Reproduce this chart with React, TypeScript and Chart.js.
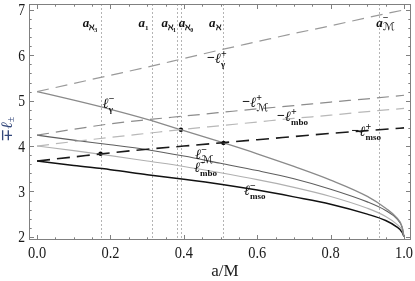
import React, { useEffect, useRef } from "react";
import { Chart, registerables } from "chart.js";
Chart.register(...registerables);

// ---- data ----
const aMinus = [0, 0.1, 0.2, 0.3, 0.4, 0.5, 0.6, 0.7, 0.8, 0.9, 0.95, 0.98, 0.995, 1.0];
const lGammaMinus = [5.2, 5.01, 4.81, 4.59, 4.34, 4.09, 3.83, 3.55, 3.25, 2.89, 2.63, 2.42, 2.22, 2.0];
const lMMinus = [4.24, 4.13, 4.03, 3.92, 3.78, 3.62, 3.46, 3.28, 3.05, 2.77, 2.58, 2.4, 2.2, 2.0];
const lMboMinus = [4.0, 3.9, 3.79, 3.67, 3.55, 3.41, 3.26, 3.09, 2.89, 2.63, 2.45, 2.28, 2.14, 2.0];
const lMsoMinus = [3.67, 3.57, 3.48, 3.37, 3.27, 3.16, 3.03, 2.88, 2.72, 2.5, 2.36, 2.22, 2.1, 2.0];

const aPlus = [0, 0.1, 0.2, 0.3, 0.4, 0.5, 0.6, 0.7, 0.8, 0.9, 1.0];
const lGammaPlus = [5.2, 5.38, 5.56, 5.74, 5.93, 6.12, 6.3, 6.48, 6.65, 6.83, 7.0];
const lMPlus = [4.24, 4.37, 4.49, 4.58, 4.66, 4.74, 4.82, 4.89, 4.97, 5.04, 5.12];
const lMboPlus = [4.0, 4.1, 4.19, 4.28, 4.37, 4.45, 4.53, 4.61, 4.68, 4.76, 4.83];
const lMsoPlus = [3.67, 3.76, 3.85, 3.93, 4.0, 4.07, 4.14, 4.21, 4.28, 4.34, 4.4];

const dotA = [0.173, 0.392, 0.508];
const dotL = [3.83, 4.36, 4.07];

const markerA = [0.173, 0.314, 0.381, 0.392, 0.508, 0.932];

const xTicks = [0, 0.2, 0.4, 0.6, 0.8, 1.0];
const yTicks = [2, 3, 4, 5, 6, 7];

const X_MIN = -0.022, X_MAX = 1.019, Y_MIN = 1.93, Y_MAX = 7.13;

// labels (data coordinates)
type Lbl = { x: number; y: number; pre: string; sub: string; sup: string };
const curveLabels: Lbl[] = [
  { x: 0.179, y: 4.844, pre: "", sub: "γ", sup: "−" },
  { x: 0.4634, y: 5.83, pre: "−", sub: "γ", sup: "+" },
  { x: 0.559, y: 4.85, pre: "−", sub: "ℳ", sup: "+" },
  { x: 0.654, y: 4.544, pre: "−", sub: "mbo", sup: "+" },
  { x: 0.857, y: 4.23, pre: "−", sub: "mso", sup: "+" },
  { x: 0.431, y: 3.72, pre: "", sub: "ℳ", sup: "−" },
  { x: 0.428, y: 3.425, pre: "", sub: "mbo", sup: "−" },
  { x: 0.5637, y: 2.93, pre: "", sub: "mso", sup: "−" },
];
type TopLbl = { x: number; sub: string; subsub: string; sup: string };
const topLabels: TopLbl[] = [
  { x: 0.1247, sub: "ℵ", subsub: "3", sup: "" },
  { x: 0.2764, sub: "1", subsub: "", sup: "" },
  { x: 0.3388, sub: "ℵ", subsub: "1", sup: "" },
  { x: 0.3862, sub: "ℵ", subsub: "0", sup: "" },
  { x: 0.4688, sub: "ℵ", subsub: "", sup: "" },
  { x: 0.924, sub: "ℳ", subsub: "", sup: "−" },
];
const TOP_LABEL_Y = 6.62;

const pts = (xs: number[], ys: number[]) => xs.map((x, i) => ({ x, y: ys[i] }));

const SCRIPT_M_FONT = '11px "DejaVu Sans"';

const framePlugin = {
  id: "mmaFrame",
  beforeDatasetsDraw(chart: any) {
    const { ctx, chartArea } = chart;
    const xs = chart.scales.x;
    ctx.save();
    ctx.strokeStyle = "#b4b4b4";
    ctx.lineWidth = 1;
    ctx.setLineDash([2, 2]);
    for (const a of markerA) {
      const px = Math.round(xs.getPixelForValue(a)) + 0.5;
      ctx.beginPath();
      ctx.moveTo(px, chartArea.top);
      ctx.lineTo(px, chartArea.bottom);
      ctx.stroke();
    }
    ctx.restore();
  },
  afterDraw(chart: any) {
    const { ctx, chartArea } = chart;
    const xs = chart.scales.x;
    const ys = chart.scales.y;
    const { left, right, top, bottom } = chartArea;
    ctx.save();
    // frame
    ctx.strokeStyle = "#808080";
    ctx.lineWidth = 1;
    ctx.setLineDash([]);
    ctx.strokeRect(left + 0.5, top + 0.5, right - left - 1, bottom - top - 1);
    // ticks
    const tick = (x1: number, y1: number, x2: number, y2: number) => {
      ctx.beginPath();
      ctx.moveTo(x1, y1);
      ctx.lineTo(x2, y2);
      ctx.stroke();
    };
    for (let i = 0; i <= 20; i++) {
      const v = i * 0.05;
      const major = i % 4 === 0;
      const len = major ? 5 : 2.7;
      const px = Math.round(xs.getPixelForValue(v)) + 0.5;
      tick(px, bottom, px, bottom - len);
      tick(px, top, px, top + len);
    }
    for (let i = 0; i <= 25; i++) {
      const v = 2 + i * 0.2;
      const major = i % 5 === 0;
      const len = major ? 5 : 2.7;
      const py = Math.round(ys.getPixelForValue(v)) + 0.5;
      tick(left, py, left + len, py);
      tick(right, py, right - len, py);
    }
    // tick labels
    ctx.fillStyle = "#1a1a1a";
    ctx.font = '17px "Liberation Serif"';
    ctx.textBaseline = "alphabetic";
    for (const v of xTicks) {
      const px = xs.getPixelForValue(v);
      const s = v.toFixed(1);
      ctx.save();
      ctx.translate(px, bottom + 17.5);
      ctx.scale(0.85, 1);
      ctx.textAlign = "center";
      ctx.fillText(s, 0, 0);
      ctx.restore();
    }
    ctx.font = '16px "Liberation Serif"';
    for (const v of yTicks) {
      const py = ys.getPixelForValue(v);
      ctx.save();
      ctx.translate(left - 4, py + 5.5);
      ctx.scale(0.85, 1);
      ctx.textAlign = "right";
      ctx.fillText(String(v), 0, 0);
      ctx.restore();
    }
    // axis titles
    ctx.textAlign = "center";
    ctx.font = '17px "Liberation Serif"';
    ctx.fillText("a/M", 225, 276);
    ctx.save();
    ctx.translate(12, 126);
    ctx.rotate(-Math.PI / 2);
    ctx.fillStyle = "#33477a";
    ctx.textAlign = "left";
    ctx.font = '16px "Liberation Serif"';
    ctx.fillText("∓", -16, 0);
    const w1 = ctx.measureText("∓").width;
    ctx.font = 'italic 16px "DejaVu Serif"';
    ctx.fillText("ℓ", -16 + w1, 0);
    const w2 = ctx.measureText("ℓ").width;
    ctx.font = '10px "Liberation Serif"';
    ctx.fillText("±", -16 + w1 + w2, 2);
    ctx.restore();

    // curve labels
    ctx.textAlign = "left";
    ctx.fillStyle = "#111";
    for (const l of curveLabels) {
      let cx = xs.getPixelForValue(l.x);
      const by = ys.getPixelForValue(l.y);
      if (l.pre) {
        ctx.font = 'bold 14px "Liberation Serif"';
        ctx.fillText(l.pre, cx, by - 1);
        cx += ctx.measureText(l.pre).width;
      }
      ctx.font = 'bold italic 14px "DejaVu Serif"';
      ctx.fillText("ℓ", cx, by);
      cx += ctx.measureText("ℓ").width;
      ctx.font = 'bold 10px "Liberation Serif"';
      ctx.fillText(l.sup, cx, by - 6);
      ctx.font = l.sub === "ℳ" ? SCRIPT_M_FONT : 'bold 9px "Liberation Serif"';
      ctx.fillText(l.sub, cx, by + 4);
    }

    // top labels
    const ty = ys.getPixelForValue(TOP_LABEL_Y);
    for (const l of topLabels) {
      let cx = xs.getPixelForValue(l.x);
      ctx.font = 'bold italic 13px "Liberation Serif"';
      ctx.fillText("a", cx, ty);
      cx += ctx.measureText("a").width;
      if (l.sup) {
        ctx.font = 'bold 10px "Liberation Serif"';
        ctx.fillText(l.sup, cx, ty - 6);
      }
      ctx.font =
        l.sub === "1" ? 'bold 7px "Liberation Serif"' : l.sub === "ℳ" ? SCRIPT_M_FONT : 'bold 9px "DejaVu Serif"';
      ctx.fillText(l.sub, cx, ty + 3);
      cx += ctx.measureText(l.sub).width;
      if (l.subsub) {
        ctx.font = 'bold 6px "Liberation Serif"';
        ctx.fillText(l.subsub, cx, ty + 5);
      }
    }
    ctx.restore();
  },
};

export default function App() {
  const ref = useRef<HTMLCanvasElement | null>(null);
  useEffect(() => {
    if (!ref.current) return;
    const solid = (label: string, ys: number[], color: string, w: number) => ({
      label,
      data: pts(aMinus, ys),
      showLine: true,
      borderColor: color,
      borderWidth: w,
      pointRadius: 0,
      cubicInterpolationMode: "monotone" as const,
    });
    const dashed = (label: string, ys: number[], color: string, w: number, dash: number[]) => ({
      label,
      data: pts(aPlus, ys),
      showLine: true,
      borderColor: color,
      borderWidth: w,
      borderDash: dash,
      pointRadius: 0,
      cubicInterpolationMode: "monotone" as const,
    });
    const chart = new Chart(ref.current, {
      type: "scatter",
      data: {
        datasets: [
          dashed("-l+gamma", lGammaPlus, "#9a9a9a", 1.2, [12, 7]),
          dashed("-l+M", lMPlus, "#8c8c8c", 1.2, [12, 7]),
          dashed("-l+mbo", lMboPlus, "#b8b8b8", 1.2, [12, 7]),
          dashed("-l+mso", lMsoPlus, "#1a1a1a", 1.6, [13, 7]),
          solid("l-gamma", lGammaMinus, "#8a8a8a", 1.3),
          solid("l-M", lMMinus, "#5e5e5e", 1.1),
          solid("l-mbo", lMboMinus, "#b0b0b0", 1.1),
          solid("l-mso", lMsoMinus, "#111111", 1.5),
          {
            label: "points",
            data: pts(dotA, dotL),
            showLine: false,
            pointRadius: 2.2,
            pointBackgroundColor: "#000",
            pointBorderWidth: 0,
          },
        ],
      },
      options: {
        responsive: false,
        animation: false,
        devicePixelRatio: 1,
        layout: { padding: { left: 0, right: 2, top: 3, bottom: 0 } },
        plugins: { legend: { display: false }, tooltip: { enabled: false } },
        scales: {
          x: {
            type: "linear",
            min: X_MIN,
            max: X_MAX,
            grid: { display: false, drawTicks: false },
            border: { display: false },
            ticks: { display: false },
            afterFit: (s: any) => {
              s.height = 41;
            },
          },
          y: {
            type: "linear",
            min: Y_MIN,
            max: Y_MAX,
            grid: { display: false, drawTicks: false },
            border: { display: false },
            ticks: { display: false },
            afterFit: (s: any) => {
              s.width = 29;
            },
          },
        },
      },
      plugins: [framePlugin],
    });
    return () => chart.destroy();
  }, []);
  return (
    <div style={{ position: "fixed", left: 0, top: 0, width: 415, height: 281, background: "#fff" }}>
      <canvas ref={ref} width={415} height={281} style={{ display: "block" }} />
    </div>
  );
}
